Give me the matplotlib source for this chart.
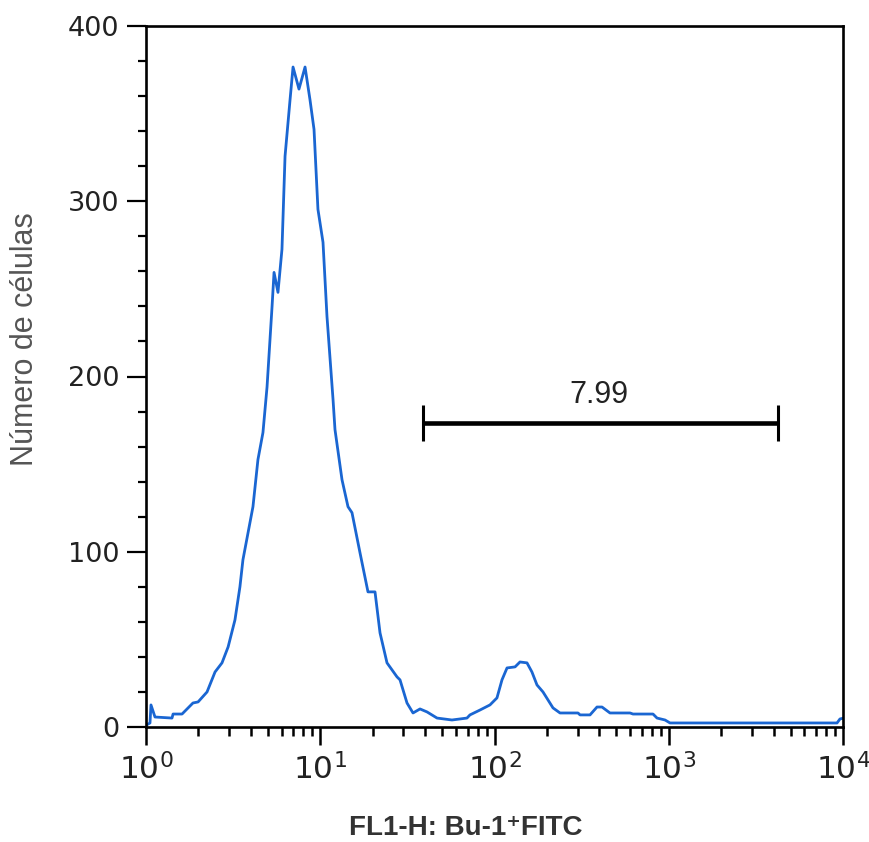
import matplotlib
matplotlib.use("Agg")
import matplotlib.pyplot as plt
from matplotlib.ticker import FixedLocator, MultipleLocator, NullFormatter, LogLocator

# ---- data ----
fluor = [1.0, 1.054, 1.068, 1.126, 1.41, 1.43, 1.61, 1.86, 1.99, 2.24, 2.49, 2.73, 2.96,
         3.24, 3.46, 3.60, 4.11, 4.39, 4.69, 4.95, 5.29, 5.43, 5.72, 6.03, 6.28, 6.71,
         6.98, 7.55, 8.18, 8.73, 9.21, 9.70, 10.37, 10.93, 11.84, 12.15, 13.33, 14.43,
         15.21, 16.91, 18.79, 20.62, 22.03, 24.16, 27.57, 28.69, 31.47, 34.07, 37.37,
         41.0, 46.8, 57.0, 69.5, 72.3, 82.6, 94.2, 103.3, 110.4, 118.0, 131.2, 140.0,
         153.6, 164.0, 175.3, 189.8, 216.6, 237.7, 301.4, 309.6, 353.3, 387.4, 414.0,
         460.0, 599.4, 623.6, 812.2, 856.6, 952.0, 1017.0, 9240.0, 9610.0, 10000.0]
counts = [1.0, 2.3, 12.6, 5.7, 5.1, 7.4, 7.4, 13.7, 14.3, 20.0, 31.4, 36.6, 45.7,
          61.1, 80.0, 95.4, 125.7, 152.6, 168.0, 194.0, 240.0, 259.4, 248.0, 272.6, 325.7, 358.0,
          376.6, 364.0, 376.6, 358.0, 341.0, 295.4, 276.6, 234.3, 186.9, 169.7, 141.1, 125.7,
          122.3, 99.4, 77.1, 77.1, 53.7, 36.6, 28.6, 26.9, 13.7, 8.0, 10.3,
          8.6, 5.1, 4.0, 5.1, 6.9, 9.7, 12.6, 16.6, 26.9, 33.7, 34.3, 37.1,
          36.6, 31.4, 24.0, 20.0, 10.9, 8.0, 8.0, 6.9, 6.9, 11.4, 11.4,
          8.0, 8.0, 7.4, 7.4, 5.1, 4.0, 2.3, 2.3, 4.6, 5.0]

gate_lo, gate_hi, gate_level = 38.9, 4236.0, 173.7
gate_label = "7.99"
gate_label_y = 185.0
gate_cap = 10.3

xtick_vals = [1, 10, 100, 1000, 10000]
xtick_labels = [r"$\mathregular{10^{0}}$", r"$\mathregular{10^{1}}$", r"$\mathregular{10^{2}}$",
                r"$\mathregular{10^{3}}$", r"$\mathregular{10^{4}}$"]
ytick_vals = [0, 100, 200, 300, 400]

plt.rcParams['mathtext.fontset'] = 'custom'
plt.rcParams['mathtext.rm'] = 'Liberation Sans'
plt.rcParams['mathtext.it'] = 'Liberation Sans'
plt.rcParams['mathtext.bf'] = 'Liberation Sans:bold'

fig = plt.figure(figsize=(8.69, 8.42), dpi=100)
ax = fig.add_axes([146/869, (842-727)/842, (843-146)/869, (727-26)/842])

ax.plot(fluor, counts, color='#1a66d2', lw=2.0, solid_joinstyle='round')

ax.set_xscale('log')
ax.set_xlim(1, 10000)
ax.set_ylim(0, 400)

# gate
ax.plot([gate_lo, gate_hi], [gate_level, gate_level], color='black', lw=3.3, solid_capstyle='butt')
for gx in (gate_lo, gate_hi):
    ax.plot([gx, gx], [gate_level - gate_cap, gate_level + gate_cap], color='black', lw=2.2,
            solid_capstyle='butt')
gmid = (gate_lo * gate_hi) ** 0.5
ax.text(gmid * 0.98, gate_label_y, gate_label, ha='center', va='baseline', fontsize=22,
        family='Liberation Sans', color='#222222')

# ticks
ax.xaxis.set_major_locator(FixedLocator(xtick_vals))
ax.set_xticklabels(xtick_labels)
ax.xaxis.set_minor_locator(LogLocator(base=10, subs=range(2, 10), numticks=20))
ax.xaxis.set_minor_formatter(NullFormatter())
ax.yaxis.set_major_locator(FixedLocator(ytick_vals))
ax.yaxis.set_minor_locator(MultipleLocator(20))

ax.tick_params(axis='x', which='major', direction='out', length=13, width=1.8, pad=6,
               labelsize=22.5, colors='black', labelcolor='#222222')
ax.tick_params(axis='x', which='minor', direction='out', length=6.5, width=1.8)
ax.tick_params(axis='y', which='major', direction='out', length=14, width=1.6, pad=5,
               labelsize=19.5, labelcolor='#222222')
ax.tick_params(axis='y', which='minor', direction='out', length=6, width=1.6)
for lab in ax.get_yticklabels():
    lab.set_family('DejaVu Sans')

for sp in ax.spines.values():
    sp.set_linewidth(1.9)
    sp.set_color('black')

ax.set_xlabel("FL1-H: Bu-1⁺FITC", fontsize=20, fontweight='bold', color='#333333',
              family=['Liberation Sans', 'DejaVu Sans'])
ax.xaxis.set_label_coords(0.459, -0.125)
ax.xaxis.label.set_va('top')

ax.set_ylabel("Número de células", fontsize=22, color='#555555', family='Liberation Sans')
ax.yaxis.set_label_coords(-0.174, 0.553)
ax.yaxis.label.set_va('center')

fig.savefig('out.png', dpi=100)
